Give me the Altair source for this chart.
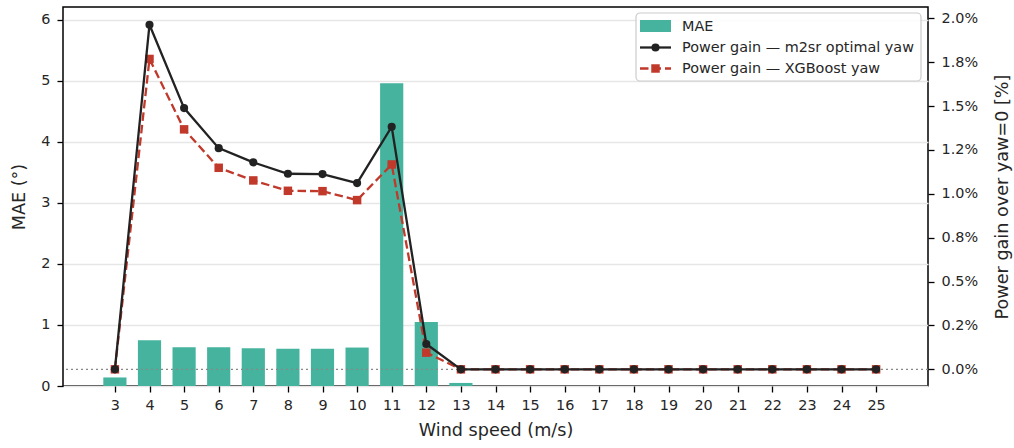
import altair as alt
import pandas as pd

# ---- data ----
wind_speed = [3, 4, 5, 6, 7, 8, 9, 10, 11, 12, 13, 14, 15, 16, 17, 18, 19, 20, 21, 22, 23, 24, 25]
mae_deg = [0.14, 0.75, 0.635, 0.635, 0.62, 0.61, 0.61, 0.63, 4.96, 1.05, 0.05,
           0.0, 0.0, 0.0, 0.0, 0.0, 0.0, 0.0, 0.0, 0.0, 0.0, 0.0, 0.0]
gain_m2sr = [0.0, 1.963, 1.488, 1.260, 1.179, 1.114, 1.112, 1.061, 1.382, 0.144, 0.0,
             0.0, 0.0, 0.0, 0.0, 0.0, 0.0, 0.0, 0.0, 0.0, 0.0, 0.0, 0.0]
gain_xgb = [0.0, 1.768, 1.367, 1.148, 1.076, 1.017, 1.015, 0.964, 1.167, 0.095, 0.0,
            0.0, 0.0, 0.0, 0.0, 0.0, 0.0, 0.0, 0.0, 0.0, 0.0, 0.0, 0.0]
left_ticks = [0, 1, 2, 3, 4, 5, 6]
right_ticks = [0.0, 0.25, 0.5, 0.75, 1.0, 1.25, 1.5, 1.75, 2.0]
right_labels = ["0.0%", "0.2%", "0.5%", "0.8%", "1.0%", "1.2%", "1.5%", "1.8%", "2.0%"]
legend_labels = ["MAE", "Power gain \u2014 m2sr optimal yaw", "Power gain \u2014 XGBoost yaw"]

TEAL = "#45b39d"
BLACK = "#222222"
RED = "#c0392b"
TXT = "#262626"
FONT = "DejaVu Sans"
BAR_HALF = 0.335

df = pd.DataFrame({
    "ws": wind_speed,
    "mae": mae_deg,
    "m2sr": gain_m2sr,
    "xgb": gain_xgb,
})
df["x0"] = df["ws"] - BAR_HALF
df["x1"] = df["ws"] + BAR_HALF
df["base"] = 0.0

xscale = alt.Scale(domain=[1.5, 26.5], nice=False, zero=False)
xaxis = alt.Axis(values=wind_speed, title="Wind speed (m/s)", grid=False,
                 labelPadding=6, titlePadding=10)
yl_scale = alt.Scale(domain=[0, 6.21], nice=False, zero=False)
yr_scale = alt.Scale(domain=[-0.095, 2.064], nice=False, zero=False)

label_expr = " : ".join(
    f"datum.value == {v} ? '{l}'" for v, l in zip(right_ticks, right_labels)
) + " : ''"

base = alt.Chart(df)

bars = base.mark_rect(color=TEAL).encode(
    x=alt.X("x0:Q", scale=xscale, axis=xaxis),
    x2="x1:Q",
    y=alt.Y("mae:Q", scale=yl_scale,
            axis=alt.Axis(values=left_ticks, title="MAE (\u00b0)", grid=True,
                          gridColor="#e6e6e6", gridWidth=1.3, labelPadding=7,
                          titlePadding=12)),
    y2="base:Q",
)

zero_df = pd.DataFrame({"g": [0.0]})
zero_line = alt.Chart(zero_df).mark_rule(color="#888888", strokeDash=[2, 3], strokeWidth=1.3).encode(
    y=alt.Y("g:Q", scale=yr_scale)
)

xenc = alt.X("ws:Q", scale=xscale, axis=xaxis)
right_axis = alt.Axis(values=right_ticks, labelExpr=label_expr, orient="right",
                      title="Power gain over yaw=0 [%]", grid=False, labelPadding=7,
                      titleAngle=270, titlePadding=34)

red_line = base.mark_line(color=RED, strokeWidth=2.3, strokeDash=[8.5, 4]).encode(
    x=xenc, y=alt.Y("xgb:Q", scale=yr_scale, axis=right_axis))
red_pts = base.mark_point(shape="square", filled=True, color=RED, size=72, opacity=1).encode(
    x=xenc, y=alt.Y("xgb:Q", scale=yr_scale))
blk_line = base.mark_line(color=BLACK, strokeWidth=2.3).encode(
    x=xenc, y=alt.Y("m2sr:Q", scale=yr_scale))
blk_pts = base.mark_point(shape="circle", filled=True, color=BLACK, size=66, opacity=1).encode(
    x=xenc, y=alt.Y("m2sr:Q", scale=yr_scale))

right_layer = alt.layer(zero_line, red_line, red_pts, blk_line, blk_pts)

# ---- legend (drawn as marks, top-right inside the plot) ----
one = pd.DataFrame({"k": [0]})
lg = alt.Chart(one)
lg_box = lg.mark_rect(fill="white", fillOpacity=0.85, stroke="#cccccc", strokeWidth=1.2,
                      cornerRadius=4).encode(
    x=alt.value(573), x2=alt.value(858), y=alt.value(6), y2=alt.value(74))
lg_bar = lg.mark_rect(color=TEAL).encode(
    x=alt.value(577), x2=alt.value(608), y=alt.value(13), y2=alt.value(25))
lg_blk = lg.mark_rule(color=BLACK, strokeWidth=2.3).encode(
    x=alt.value(577), x2=alt.value(608), y=alt.value(40.5))
lg_blk_pt = lg.mark_point(shape="circle", filled=True, color=BLACK, size=66, opacity=1).encode(
    x=alt.value(592.5), y=alt.value(40.5))
lg_red = lg.mark_rule(color=RED, strokeWidth=2.3, strokeDash=[8.5, 4]).encode(
    x=alt.value(577), x2=alt.value(608), y=alt.value(61.5))
lg_red_pt = lg.mark_point(shape="square", filled=True, color=RED, size=72, opacity=1).encode(
    x=alt.value(592.5), y=alt.value(61.5))
lg_texts = [
    lg.mark_text(align="left", baseline="middle", fontSize=14.4, font=FONT, color=TXT).encode(
        x=alt.value(619), y=alt.value(yy), text=alt.value(t))
    for t, yy in zip(legend_labels, [19.5, 40.5, 61.5])
]

chart = alt.layer(
    bars, right_layer
).resolve_scale(y="independent")

chart = alt.layer(
    chart, lg_box, lg_bar, lg_blk, lg_blk_pt, lg_red, lg_red_pt, *lg_texts
).properties(
    width=865, height=379,
    autosize=alt.AutoSizeParams(type="none"),
    padding={"left": 63, "top": 7, "right": 86, "bottom": 62},
).configure_view(
    stroke="black", strokeWidth=1.5
).configure_axis(
    labelFont=FONT, titleFont=FONT, labelFontSize=14.4, titleFontSize=17.6,
    labelColor=TXT, titleColor=TXT, titleFontWeight="normal",
    domain=False, tickColor="black", tickSize=6, tickWidth=1.3,
)

chart.save("out.html", embed_options={"renderer": "svg", "actions": False})
